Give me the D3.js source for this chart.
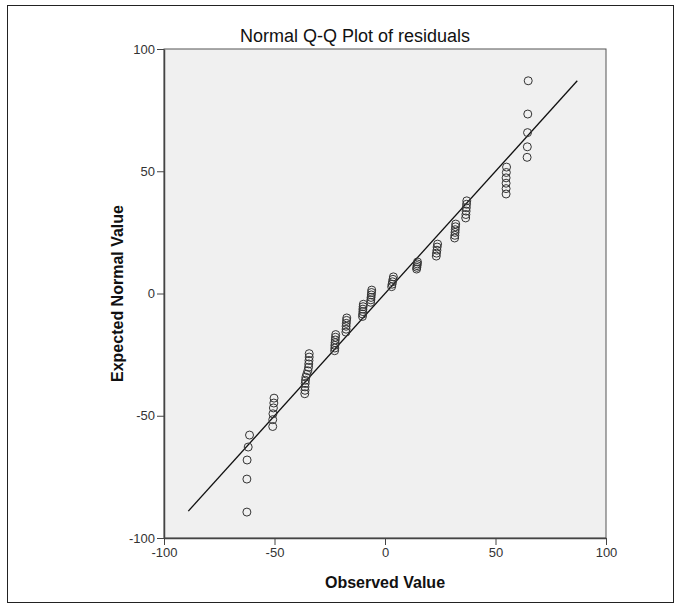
<!DOCTYPE html>
<html>
<head>
<meta charset="utf-8">
<script src="https://cdn.jsdelivr.net/npm/d3@7"></script>
<style>
  html, body { margin: 0; padding: 0; background: #fff; }
  svg { display: block; }
  text { font-family: "Liberation Sans", Arial, sans-serif; }
</style>
</head>
<body>
<svg id="chart" width="681" height="610"></svg>
<script>
// Observed residual values (x) and their expected normal quantiles (y), grouped by tie stacks
const observedA = [-62.5, -62.5, -62.4, -61.9, -61.3];
const expectedA = [-89.4, -75.9, -68.1, -62.8, -57.9];
const observedB = [-50.8, -50.8, -50.7, -50.5, -50.3, -50.2];
const expectedB = [-54.4, -51.6, -49.2, -46.8, -44.8, -42.8];
const observedC = [-36.3, -36.2, -36.2, -36.1, -36.0, -35.8, -35.4, -34.9, -34.6, -34.5, -34.4, -34.3, -34.3];
const expectedC = [-41.0, -39.6, -38.2, -36.8, -35.5, -34.2, -33.0, -31.6, -30.2, -28.8, -27.4, -26.0, -24.6];
const observedD = [-22.8, -22.7, -22.7, -22.6, -22.5, -22.4, -22.3];
const expectedD = [-23.4, -22.3, -21.2, -20.1, -19.0, -17.9, -16.8];
const observedE = [-17.7, -17.6, -17.6, -17.5, -17.4, -17.3];
const expectedE = [-15.8, -14.6, -13.4, -12.2, -11.0, -10.0];
const observedF = [-10.2, -10.1, -10.0, -10.0, -9.9, -9.8];
const expectedF = [-9.4, -8.4, -7.4, -6.4, -5.4, -4.4];
const observedG = [-6.5, -6.4, -6.3, -6.2, -6.1, -6.0];
const expectedG = [-3.6, -2.6, -1.6, -0.6, 0.4, 1.4];
const observedH = [3.0, 3.2, 3.4, 3.6, 3.8];
const expectedH = [2.8, 3.8, 4.8, 5.8, 6.8];
const observedI = [14.3, 14.4, 14.5, 14.6, 14.7];
const expectedI = [10.0, 10.7, 11.4, 12.1, 12.9];
const observedJ = [23.2, 23.3, 23.5, 23.6, 23.8];
const expectedJ = [15.3, 16.5, 17.7, 19.0, 20.2];
const observedK = [31.5, 31.6, 31.7, 31.8, 31.9, 32.0];
const expectedK = [22.7, 23.8, 25.0, 26.1, 27.3, 28.4];
const observedL = [36.5, 36.6, 36.7, 36.8, 36.9, 37.0];
const expectedL = [30.9, 32.3, 33.7, 35.1, 36.5, 37.9];
const observedM = [54.8, 54.8, 54.8, 54.8, 54.9, 55.0];
const expectedM = [40.7, 42.9, 45.1, 47.3, 49.5, 51.7];
const observedN = [64.3, 64.4, 64.5, 64.6, 64.8];
const expectedN = [55.7, 60.0, 65.8, 73.4, 87.0];

const xTicks = [-100, -50, 0, 50, 100];
const yTicks = [-100, -50, 0, 50, 100];
const refLine = [-89, 87];

const titleText = "Normal Q-Q Plot of residuals";
const xLabel = "Observed Value";
const yLabel = "Expected Normal Value";

const observed = [].concat(observedA, observedB, observedC, observedD, observedE, observedF, observedG,
                           observedH, observedI, observedJ, observedK, observedL, observedM, observedN);
const expected = [].concat(expectedA, expectedB, expectedC, expectedD, expectedE, expectedF, expectedG,
                           expectedH, expectedI, expectedJ, expectedK, expectedL, expectedM, expectedN);
const points = observed.map((o, i) => ({ x: o, y: expected[i] }));

const svg = d3.select("#chart");
const plot = { left: 164, right: 606, top: 49, bottom: 538 };

// Outer frame around the whole figure
svg.append("rect")
  .attr("x", 7.5).attr("y", 5.5)
  .attr("width", 666).attr("height", 597)
  .attr("fill", "#fff").attr("stroke", "#222").attr("stroke-width", 1);

const x = d3.scaleLinear().domain([-100, 100]).range([plot.left, plot.right]);
const y = d3.scaleLinear().domain([-100, 100]).range([plot.bottom, plot.top]);

// Plot background
svg.append("rect")
  .attr("x", plot.left).attr("y", plot.top)
  .attr("width", plot.right - plot.left).attr("height", plot.bottom - plot.top)
  .attr("fill", "#f0f0f0")
  .attr("stroke", "#555").attr("stroke-width", 1);

// Tick labels use a plain hyphen for negatives
const tickFmt = d => String(d);

// Axes
const xAxis = svg.append("g")
  .attr("transform", `translate(0,${plot.bottom})`)
  .call(d3.axisBottom(x).tickValues(xTicks).tickFormat(tickFmt).tickSize(7).tickSizeOuter(0).tickPadding(3));
const yAxis = svg.append("g")
  .attr("transform", `translate(${plot.left},0)`)
  .call(d3.axisLeft(y).tickValues(yTicks).tickFormat(tickFmt).tickSize(7).tickSizeOuter(0).tickPadding(2));

[xAxis, yAxis].forEach(g => {
  g.select(".domain").attr("stroke", "#444").attr("stroke-width", 1.5);
  g.selectAll(".tick line").attr("stroke", "#444");
  g.selectAll(".tick text")
    .attr("fill", "#333")
    .style("font-size", "13px")
    .style("font-family", "'Liberation Sans', Arial, sans-serif");
});

// Reference line y = x
svg.append("line")
  .attr("x1", x(refLine[0])).attr("y1", y(refLine[0]))
  .attr("x2", x(refLine[1])).attr("y2", y(refLine[1]))
  .attr("stroke", "#111").attr("stroke-width", 1.3);

// Observed vs expected points
svg.append("g")
  .selectAll("circle")
  .data(points)
  .join("circle")
  .attr("cx", d => x(d.x))
  .attr("cy", d => y(d.y))
  .attr("r", 4)
  .attr("fill", "none")
  .attr("stroke", "#333")
  .attr("stroke-width", 1);

// Title and axis titles
svg.append("text")
  .attr("x", 355).attr("y", 42)
  .attr("text-anchor", "middle")
  .style("font-size", "18px")
  .attr("fill", "#111")
  .text(titleText);

svg.append("text")
  .attr("x", 385).attr("y", 588)
  .attr("text-anchor", "middle")
  .style("font-size", "16px")
  .style("font-weight", "bold")
  .attr("fill", "#111")
  .text(xLabel);

svg.append("text")
  .attr("transform", `translate(123,${y(0)}) rotate(-90)`)
  .attr("text-anchor", "middle")
  .style("font-size", "16px")
  .style("font-weight", "bold")
  .attr("fill", "#111")
  .text(yLabel);
</script>
</body>
</html>
